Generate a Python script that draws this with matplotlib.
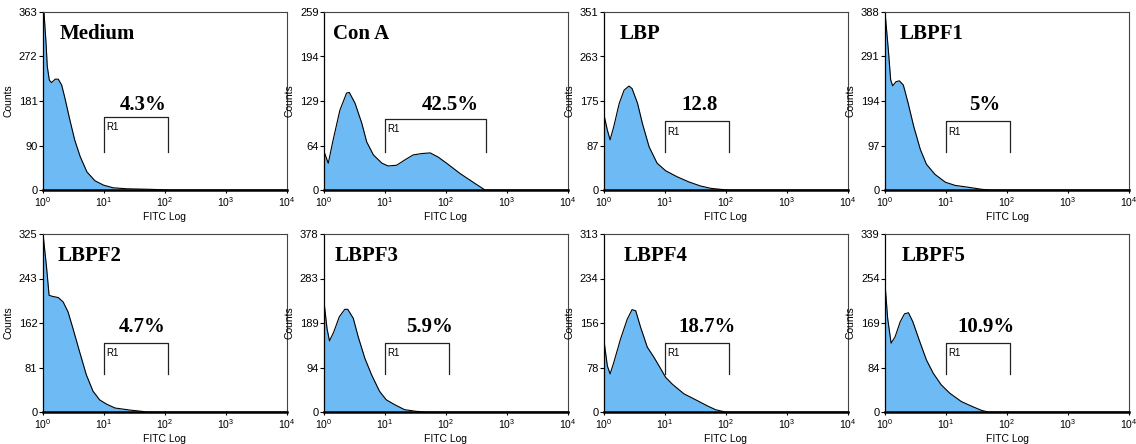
import matplotlib
matplotlib.use("Agg")
import matplotlib.pyplot as plt
import numpy as np
from matplotlib.ticker import NullLocator

plt.rcParams["font.family"] = ["Liberation Sans", "DejaVu Sans"]

SAMPLES = ["Medium", "Con A", "LBP", "LBPF1", "LBPF2", "LBPF3", "LBPF4", "LBPF5"]
Y_MAX = [363, 259, 351, 388, 325, 378, 313, 339]
GATE_LABELS = ["4.3%", "42.5%", "12.8", "5%", "4.7%", "5.9%", "18.7%", "10.9%"]
GATE_START = [10, 10, 10, 10, 10, 10, 10, 10]
GATE_END = [110, 460, 110, 110, 110, 110, 110, 110]
X_TICKS = [1, 10, 100, 1000, 10000]

# histogram outlines: log10(FITC) position and counts
MEDIUM_LOGX = [0, 0.016, 0.05, 0.07, 0.104, 0.14, 0.2, 0.25, 0.306, 0.36, 0.44, 0.52, 0.61, 0.72,
               0.85, 0.99, 1.15, 1.37, 1.75, 2.1, 4.0]
MEDIUM_COUNTS = [363, 363, 299, 252, 224, 219, 226, 226, 214, 187, 143, 102, 68, 37,
                 19, 10, 4.5, 2.5, 1.4, 0, 0]

CONA_LOGX = [0, 0.07, 0.15, 0.26, 0.37, 0.415, 0.51, 0.62, 0.7, 0.81, 0.95, 1.05, 1.19, 1.33, 1.46,
             1.6, 1.74, 1.87, 2.01, 2.23, 2.45, 2.64, 4.0]
CONA_COUNTS = [56, 39, 73, 116, 141, 142, 126, 97, 70, 51, 39, 35, 36, 44, 51,
               53, 54, 48, 39, 24, 11, 0, 0]

LBP_LOGX = [0, 0.055, 0.1, 0.16, 0.25, 0.33, 0.41, 0.46, 0.55, 0.63, 0.74, 0.87, 1.01, 1.2, 1.39,
            1.58, 1.75, 1.91, 2.05, 4.0]
LBP_COUNTS = [148, 118, 99, 125, 171, 197, 205, 200, 171, 131, 85, 53, 38, 26, 16,
              8, 3.3, 1.3, 0, 0]

LBPF1_LOGX = [0, 0.055, 0.093, 0.126, 0.18, 0.235, 0.3, 0.38, 0.47, 0.58, 0.68, 0.82, 0.99, 1.15,
              1.34, 1.59, 1.73, 4.0]
LBPF1_COUNTS = [388, 305, 240, 227, 236, 238, 229, 189, 139, 88, 56, 34, 17, 10,
                6.5, 1.4, 0, 0]

LBPF2_LOGX = [0, 0.055, 0.1, 0.16, 0.25, 0.33, 0.41, 0.49, 0.6, 0.71, 0.82, 0.93, 1.04, 1.18,
              1.42, 1.62, 1.7, 4.0]
LBPF2_COUNTS = [325, 268, 213, 211, 209, 201, 183, 153, 110, 68, 38, 22, 14.5, 7.3,
                3.6, 1.2, 0, 0]

LBPF3_LOGX = [0, 0.05, 0.09, 0.16, 0.25, 0.34, 0.39, 0.48, 0.56, 0.67, 0.78, 0.91, 1.02, 1.16,
              1.32, 1.51, 1.68, 4.0]
LBPF3_COUNTS = [234, 177, 151, 170, 202, 218, 218, 199, 160, 114, 79, 44, 26, 15.5,
                5, 1.4, 0, 0]

LBPF4_LOGX = [0, 0.055, 0.1, 0.16, 0.27, 0.38, 0.46, 0.52, 0.6, 0.71, 0.82, 0.93, 1.01, 1.12,
              1.31, 1.53, 1.69, 1.83, 1.94, 2.0, 4.0]
LBPF4_COUNTS = [125, 81, 67, 87, 128, 163, 180, 178, 149, 114, 96, 76, 61, 49,
                32, 20, 11, 4, 1.2, 0, 0]

LBPF5_LOGX = [0, 0.044, 0.1, 0.165, 0.25, 0.32, 0.385, 0.456, 0.57, 0.68, 0.79, 0.92, 1.06, 1.25,
              1.42, 1.58, 1.69, 4.0]
LBPF5_COUNTS = [244, 178, 131, 143, 172, 187, 189, 172, 134, 99, 74, 52, 36, 20,
                11, 3.2, 0, 0]

CURVES = [
    (MEDIUM_LOGX, MEDIUM_COUNTS), (CONA_LOGX, CONA_COUNTS), (LBP_LOGX, LBP_COUNTS),
    (LBPF1_LOGX, LBPF1_COUNTS), (LBPF2_LOGX, LBPF2_COUNTS), (LBPF3_LOGX, LBPF3_COUNTS),
    (LBPF4_LOGX, LBPF4_COUNTS), (LBPF5_LOGX, LBPF5_COUNTS),
]

# layout (pixels on a 1136x444 canvas)
W, H = 1136, 444
COL_LEFT = [43, 324, 604, 885]
ROW_TOP = [12, 234]
AX_W, AX_H = 244, 178
TITLE_X = [0.07, 0.038, 0.062, 0.059, 0.059, 0.045, 0.08, 0.07]
LABEL_LOGX = [1.64, 2.07, 1.56, 1.63, 1.63, 1.73, 1.69, 1.65]
GATE_Y = [0.41, 0.40, 0.385, 0.385, 0.39, 0.39, 0.39, 0.39]
GATE_BOTTOM = 0.215
FILL = "#6dbaf5"

fig = plt.figure(figsize=(W / 100, H / 100), dpi=100)

for i, name in enumerate(SAMPLES):
    row, col = divmod(i, 4)
    left = COL_LEFT[col] / W
    bottom = 1 - (ROW_TOP[row] + AX_H) / H
    ax = fig.add_axes([left, bottom, AX_W / W, AX_H / H])

    logx, counts = CURVES[i]
    x = 10 ** np.array(logx)
    y = np.array(counts)
    ax.fill_between(x, 0, y, color=FILL, lw=0)
    ax.plot(x, y, color="black", lw=0.8, solid_joinstyle="round")

    ax.set_xscale("log")
    ax.set_xlim(1, 1e4)
    ax.set_ylim(0, Y_MAX[i])
    ax.set_xticks(X_TICKS)
    ax.xaxis.set_minor_locator(NullLocator())
    yt = [Y_MAX[i] * k / 4 for k in range(5)]
    ax.set_yticks(yt)
    ax.set_yticklabels([str(int(v)) for v in yt])
    ax.tick_params(axis="y", direction="out", length=3, width=0.8, pad=1, labelsize=8)
    ax.tick_params(axis="x", direction="out", length=2, width=0.8, pad=2, labelsize=7.5)

    for side in ("top", "right"):
        ax.spines[side].set_color("#444444")
        ax.spines[side].set_linewidth(0.8)
    ax.spines["left"].set_linewidth(0.9)
    ax.spines["bottom"].set_linewidth(1.8)

    ax.set_ylabel("Counts", fontsize=7.5, labelpad=0)
    ax.yaxis.set_label_coords(-0.119, 0.5)
    ax.set_xlabel("FITC Log", fontsize=7.5, labelpad=0)
    ax.xaxis.set_label_coords(0.5, -0.125)

    ax.text(TITLE_X[i], 0.85, name, transform=ax.transAxes, family="Liberation Serif",
            fontweight="bold", fontsize=15, ha="left", va="baseline")

    # R1 gate bracket
    tr = ax.get_xaxis_transform()
    g0, g1, gy = GATE_START[i], GATE_END[i], GATE_Y[i]
    ax.plot([g0, g0, g1, g1], [GATE_BOTTOM, gy, gy, GATE_BOTTOM], transform=tr,
            color="#222222", lw=0.9)
    ax.text(g0 * 1.07, gy - 0.03, "R1", transform=tr, fontsize=7, ha="left", va="top")
    ax.text(10 ** LABEL_LOGX[i], 0.45, GATE_LABELS[i], transform=tr, family="Liberation Serif",
            fontweight="bold", fontsize=15, ha="center", va="baseline")

fig.savefig("out.png", dpi=100)
